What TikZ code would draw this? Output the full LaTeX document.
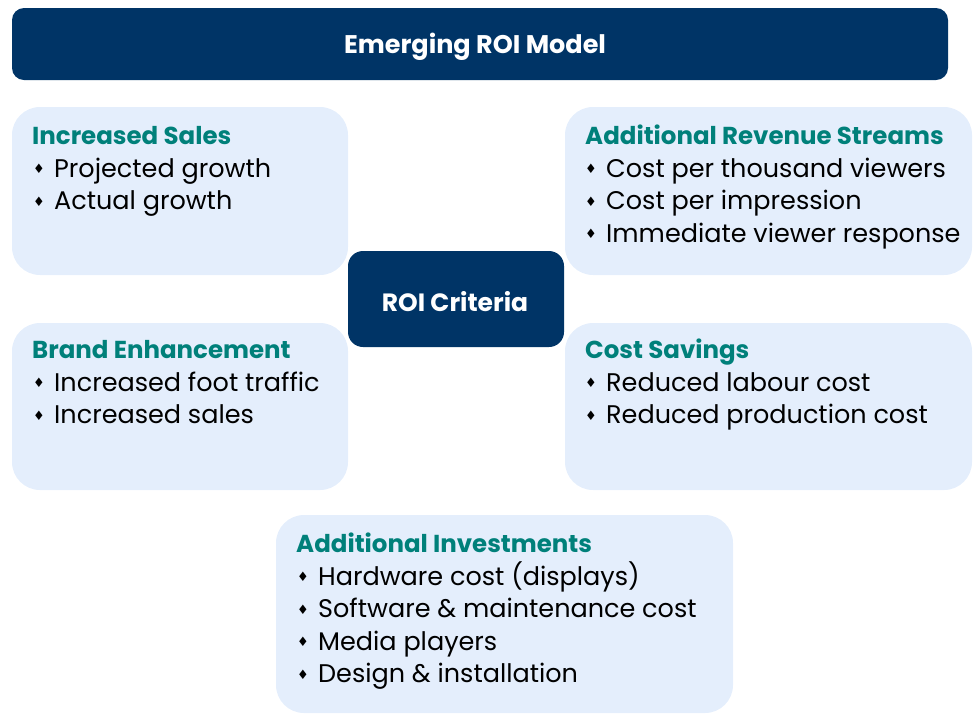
\documentclass[tikz,border=0pt]{standalone}
\usepackage{fontspec}
\setmainfont{Poppins}
\newfontfamily\dv{DejaVu Sans}
\definecolor{navy}{RGB}{0,52,102}
\definecolor{paleblue}{RGB}{228,238,252}
\definecolor{teal}{RGB}{0,128,122}
\newcommand{\bul}{\makebox[21pt][l]{\raisebox{3.5pt}{\dv\fontsize{13}{13}\selectfont ♦}}}
\begin{document}
\begin{tikzpicture}[x=1pt,y=-1pt,
  navybox/.style={fill=navy,draw=none,rounded corners=12pt,inner sep=0pt,outer sep=0pt,anchor=north west},
  palebox/.style={fill=paleblue,draw=none,rounded corners=28pt,inner sep=0pt,outer sep=0pt,anchor=north west},
  headtxt/.style={text=white,font=\fontsize{25.5}{30}\selectfont\bfseries,inner sep=0pt,anchor=base},
  titletxt/.style={text=teal,font=\fontsize{24.5}{28}\selectfont\bfseries,inner sep=0pt,anchor=base west},
  itemtxt/.style={text=black,font=\fontsize{25.5}{30}\selectfont,inner sep=0pt,anchor=base west}]
\clip (0,0) rectangle (973,713);
\useasboundingbox (0,0) rectangle (973,713);
% boxes
\node[navybox,minimum width=936pt,minimum height=72pt] (hdr) at (12,8) {};
\node[palebox,minimum width=336pt,minimum height=168pt] (sales) at (12,107) {};
\node[palebox,minimum width=407pt,minimum height=168pt] (rev) at (565,107) {};
\node[palebox,minimum width=336pt,minimum height=167pt] (brand) at (12,323) {};
\node[palebox,minimum width=407pt,minimum height=167pt] (cost) at (565,323) {};
\node[palebox,minimum width=457pt,minimum height=198pt] (inv) at (276,515) {};
\node[navybox,minimum width=216pt,minimum height=96pt,rounded corners=15pt] (roi) at (348,251) {};
% header texts
\node[headtxt] (hdrT) at (475,53) {Emerging ROI Model};
\node[headtxt,font=\fontsize{25}{30}\selectfont\bfseries] (roiT) at (455,311) {ROI Criteria};
% Increased Sales
\node[titletxt] (salesT) at (32,144) {Increased Sales};
\foreach \t [count=\i] in {Projected growth, Actual growth}
  \node[itemtxt] (sales-\i) at (33,144.5+\i*32.5) {\bul\t};
% Additional Revenue Streams
\node[titletxt] (revT) at (585,144) {Additional Revenue Streams};
\foreach \t [count=\i] in {Cost per thousand viewers, Cost per impression, Immediate viewer response}
  \node[itemtxt] (rev-\i) at (585,144.5+\i*32.5) {\bul\t};
% Brand Enhancement
\node[titletxt] (brandT) at (32,358) {Brand Enhancement};
\foreach \t [count=\i] in {Increased foot traffic, Increased sales}
  \node[itemtxt] (brand-\i) at (33,358.5+\i*32.5) {\bul\t};
% Cost Savings
\node[titletxt] (costT) at (585,358) {Cost Savings};
\foreach \t [count=\i] in {Reduced labour cost, Reduced production cost}
  \node[itemtxt] (cost-\i) at (585,358.5+\i*32.5) {\bul\t};
% Additional Investments
\node[titletxt] (invT) at (296,552) {Additional Investments};
\foreach \t [count=\i] in {Hardware cost (displays), Software \& maintenance cost, Media players, Design \& installation}
  \node[itemtxt] (inv-\i) at (297,552.5+\i*32.5) {\bul\t};
\end{tikzpicture}
\end{document}
